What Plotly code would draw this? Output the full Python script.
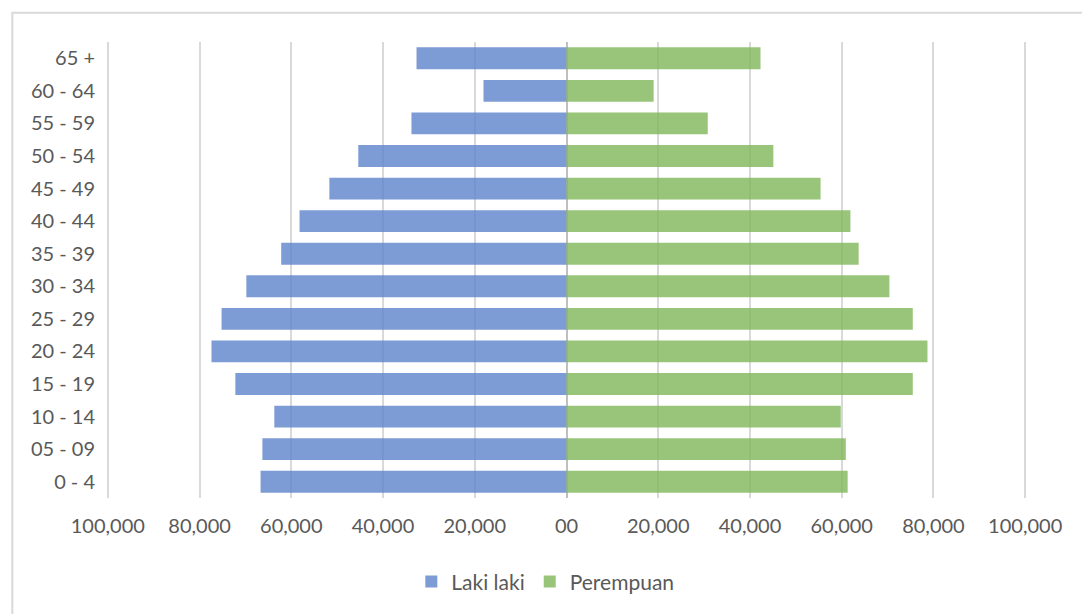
import plotly.graph_objects as go

age_groups = ["0 - 4", "05 - 09", "10 - 14", "15 - 19", "20 - 24", "25 - 29", "30 - 34",
              "35 - 39", "40 - 44", "45 - 49", "50 - 54", "55 - 59", "60 - 64", "65 +"]
laki_laki = [66700, 66300, 63700, 72200, 77400, 75200, 69800,
             62200, 58200, 51700, 45400, 33800, 18100, 32700]
perempuan = [61300, 60900, 59800, 75500, 78700, 75500, 70400,
             63700, 61900, 55400, 45100, 30800, 19000, 42300]

tick_vals = [-100000, -80000, -60000, -40000, -20000, 0, 20000, 40000, 60000, 80000, 100000]
tick_text = ["100,000", "80,000", "60,000", "40,000", "20,000", "00",
             "20,000", "40,000", "60,000", "80,000", "100,000"]

FONT = "Lato"
GREY = "#595959"

fig = go.Figure()
fig.add_trace(go.Bar(
    y=age_groups, x=[-v for v in laki_laki], orientation="h", name="Laki laki",
    marker=dict(color="rgba(96,133,202,0.82)", line=dict(width=0)),
    customdata=laki_laki, hovertemplate="%{y}: %{customdata:,}<extra>Laki laki</extra>",
))
fig.add_trace(go.Bar(
    y=age_groups, x=perempuan, orientation="h", name="Perempuan",
    marker=dict(color="rgba(131,184,94,0.82)", line=dict(width=0)),
    hovertemplate="%{y}: %{x:,}<extra>Perempuan</extra>",
))

fig.update_layout(
    width=1082, height=614,
    margin=dict(l=106, r=55, t=42, b=116),
    paper_bgcolor="white", plot_bgcolor="white",
    barmode="relative", bargap=0.33,
    font=dict(family=FONT, size=20, color=GREY),
    showlegend=True,
    legend=dict(orientation="h", x=0.477, xanchor="center", y=-0.184, yanchor="middle",
                font=dict(family=FONT, size=21, color=GREY), itemwidth=30,
                traceorder="normal"),
    xaxis=dict(range=[-100400, 100400], tickvals=tick_vals, ticktext=tick_text,
               showgrid=True, gridcolor="#D9D9D9", gridwidth=1.5,
               zeroline=True, zerolinecolor="#BFBFBF", zerolinewidth=1.5,
               showline=False, ticks="", ticklabelstandoff=14, fixedrange=True),
    yaxis=dict(showgrid=False, zeroline=False, showline=False, ticks="",
               ticklabelstandoff=10,
               categoryorder="array", categoryarray=age_groups),
    shapes=[dict(type="rect", xref="paper", yref="paper",
                 x0=-0.1017, x1=1.1, y0=-0.40, y1=1.064,
                 line=dict(color="#D9D9D9", width=2), fillcolor="rgba(0,0,0,0)",
                 layer="below")],
)

fig.write_html("out.html")
